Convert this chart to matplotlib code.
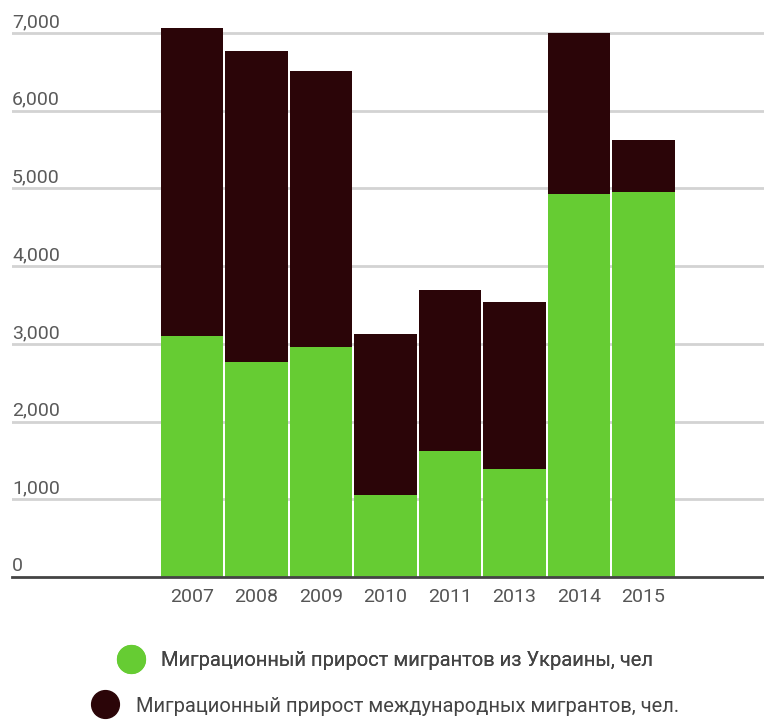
import matplotlib.pyplot as plt
from matplotlib.lines import Line2D

plt.rcParams["font.family"] = ["Roboto", "DejaVu Sans"]

years = ["2007", "2008", "2009", "2010", "2011", "2013", "2014", "2015"]
ukraine = [3100, 2765, 2960, 1055, 1620, 1390, 4930, 4955]
totals = [7065, 6770, 6510, 3125, 3695, 3540, 7000, 5625]
international = [t - u for t, u in zip(totals, ukraine)]

green = "#66cc33"
dark = "#2b0508"
label_ukr = "Миграционный прирост мигрантов из Украины, чел"
label_int = "Миграционный прирост международных мигрантов, чел."

fig = plt.figure(figsize=(7.64, 7.2), dpi=100)
ax = fig.add_axes([12 / 764, 1 - 577 / 720, 1 - 12 / 764, 577 / 720])

x = list(range(len(years)))
ax.bar(x, ukraine, width=0.965, color=green, linewidth=0, zorder=3)
ax.bar(x, international, width=0.965, bottom=ukraine, color=dark, linewidth=0, zorder=3)

ax.set_xlim(-2.79, 8.87)
ax.set_ylim(0, 7425)
for s in ["top", "right", "left"]:
    ax.spines[s].set_visible(False)
ax.spines["bottom"].set_color("#444444")
ax.spines["bottom"].set_linewidth(2)
ax.spines["bottom"].set_zorder(4)

ax.set_yticks([])
for v in range(1000, 8000, 1000):
    ax.axhline(v, color="#d3d3d3", linewidth=2, zorder=1)
for v in range(0, 8000, 1000):
    ax.text(0, v + 25, f"{v:,}", transform=ax.get_yaxis_transform(),
            ha="left", va="bottom", fontsize=14, color="#5a5a5a")

ax.set_xticks(x)
ax.set_xticklabels(years, fontsize=14, color="#555555")
ax.tick_params(axis="x", length=0, pad=8)

h1 = Line2D([], [], marker="o", linestyle="none", markersize=20,
            markerfacecolor=green, markeredgecolor=green)
h2 = Line2D([], [], marker="o", linestyle="none", markersize=20,
            markerfacecolor=dark, markeredgecolor=dark)
leg1 = fig.legend([h1], [label_ukr], loc="center", bbox_to_anchor=(0.5, 1 - 661 / 720),
                  frameon=False, fontsize=14.5, handletextpad=0.5, labelcolor="#444444")
fig.add_artist(leg1)
fig.legend([h2], [label_int], loc="center", bbox_to_anchor=(0.5, 1 - 706 / 720),
           frameon=False, fontsize=14.5, handletextpad=0.5, labelcolor="#444444")

fig.savefig("out.png", dpi=100)
